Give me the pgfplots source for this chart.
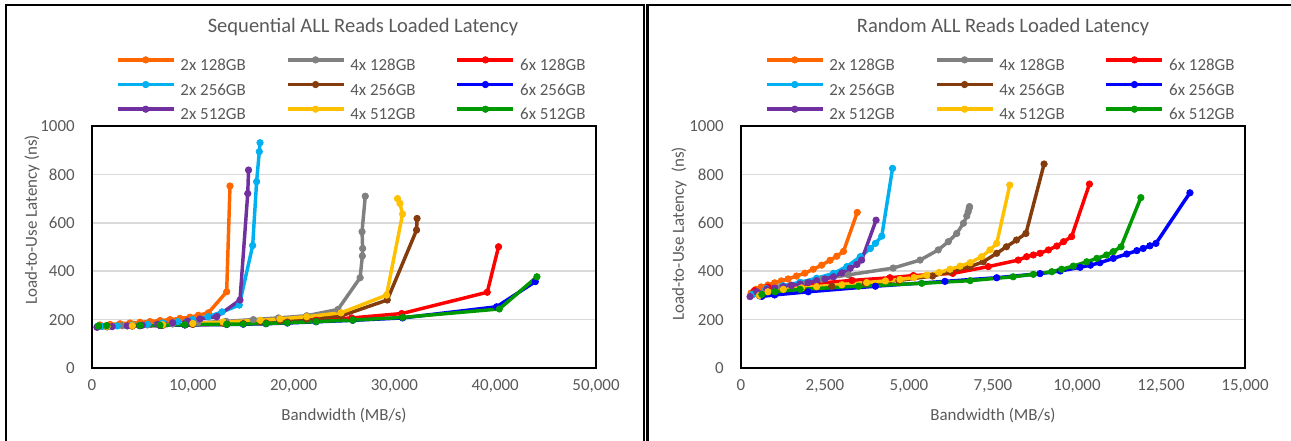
\documentclass[border=0pt]{standalone}
\usepackage{fontspec}
\setmainfont{Carlito}
\usepackage{pgfplots}
\pgfplotsset{compat=1.18}
\definecolor{txt}{HTML}{595959}
\definecolor{cOr}{HTML}{FF6600}
\definecolor{cGy}{HTML}{808080}
\definecolor{cRd}{HTML}{FF0000}
\definecolor{cCy}{HTML}{00B0F0}
\definecolor{cBr}{HTML}{843C0C}
\definecolor{cBl}{HTML}{0000FF}
\definecolor{cPu}{HTML}{7030A0}
\definecolor{cYe}{HTML}{FFC000}
\definecolor{cGn}{HTML}{009900}
\definecolor{grd}{HTML}{D9D9D9}
\newcommand{\lbl}{\fontsize{12.7}{15}\selectfont\color{txt}}
\pgfplotsset{
  myax/.style={
    scale only axis, width=378pt, height=181.5pt,
    ymin=0, ymax=1000, ytick={0,200,400,600,800,1000},
    scaled x ticks=false, scaled y ticks=false,
    axis line style={black, line width=1.6pt},
    major tick length=0pt,
    ymajorgrids, grid style={grd, line width=1.1pt},
    /pgf/number format/assume math mode=true,
    tick label style={font=\lbl, inner sep=0pt},
    xticklabel style={anchor=north, yshift=-8.6pt, /pgf/number format/set thousands separator={,}},
    yticklabel style={anchor=east, xshift=-12.75pt, /pgf/number format/set thousands separator={}},
    label style={font=\lbl},
    xlabel style={at={(axis description cs:0.5,0)}, anchor=center, yshift=-35.25pt},
    legend columns=3,
    legend style={draw=none, fill=none, inner sep=0pt, outer sep=0pt,
      at={(axis description cs:0.0476,1)}, anchor=north west, yshift=52pt,
      font=\lbl, row sep=8.1pt,
      nodes={inner sep=0pt, text height=8pt, text depth=0pt},
      /tikz/every odd column/.append style={column sep=3.75pt},
      /tikz/every even column/.append style={column sep=30pt}},
    legend image code/.code={
      \draw[yshift=4pt, mark repeat=2, mark phase=2] plot coordinates {(0pt,0pt) (21pt,0pt) (42pt,0pt)};},
    every axis plot/.append style={line width=2.6pt, mark=*, mark size=2.4pt, mark options={solid, line width=0.6pt}},
  }
}
\begin{document}
\begin{tikzpicture}[x=0.75pt, y=-0.75pt]
\useasboundingbox (0,0) rectangle (1291,440);
% panel frames
\draw[black, line width=1.2pt] (6,445) -- (6,5) -- (644,5) -- (644,445);
\draw[black, line width=1.6pt] (647.5,445) -- (647.5,5) -- (1295,5);
\node[font=\fontsize{15.4}{18}\selectfont\color{txt}] at (363,27) {Sequential ALL Reads Loaded Latency};
\node[font=\fontsize{15.4}{18}\selectfont\color{txt}] at (1003,27) {Random ALL Reads Loaded Latency};

\begin{axis}[myax, at={(69pt,-276pt)}, anchor=south west,
  xmin=0, xmax=50000, xtick={0,10000,20000,30000,40000,50000},
  xlabel={Bandwidth (MB/s)}, ylabel={Load-to-Use Latency (ns)},
  ylabel style={at={(axis description cs:-0.119,0.612)}, anchor=center}]
\addplot[cOr] coordinates {(794,178)(1786,180)(2778,183)(3770,186)(4760,189)(5750,192)(6750,196)(7740,200)(8730,205)(9720,210)(10550,218)(11540,228)(13360,315)(13690,752)};
\addlegendentry{2x 128GB}
\addplot[cGy] coordinates {(1000,172)(3000,175)(5500,178)(8000,182)(10500,187)(13300,193)(16000,200)(18500,207)(21300,216)(24400,242)(26600,373)(26820,463)(26850,494)(26790,563)(27110,710)};
\addlegendentry{4x 128GB}
\addplot[cRd] coordinates {(630,172)(1460,173)(4760,175)(6750,176)(9220,178)(13360,181)(15010,183)(17260,186)(19380,190)(22230,197)(25760,207)(30720,225)(39210,313)(40330,501)};
\addlegendentry{6x 128GB}
\addplot[cCy] coordinates {(500,170)(1000,172)(2500,174)(4000,177)(5500,181)(7000,186)(8500,192)(10000,200)(11500,212)(12900,232)(14610,260)(15940,506)(16330,770)(16600,894)(16670,931)};
\addlegendentry{2x 256GB}
\addplot[cBr] coordinates {(1500,170)(4000,173)(7000,176)(10000,180)(13000,185)(16700,191)(18650,196)(21300,203)(24700,215)(29290,281)(32200,570)(32250,618)};
\addlegendentry{4x 256GB}
\addplot[cBl] coordinates {(630,173)(1460,174)(4760,175)(6750,176)(9220,178)(13360,180)(15010,181)(17260,183)(19380,186)(22230,191)(25860,197)(30820,207)(40140,253)(43980,357)};
\addlegendentry{6x 256GB}
\addplot[cPu] coordinates {(500,168)(2000,171)(3500,174)(5000,177)(6500,181)(8000,187)(9500,194)(10700,203)(12370,212)(14680,281)(15450,721)(15530,818)};
\addlegendentry{2x 512GB}
\addplot[cYe] coordinates {(1500,172)(4000,175)(7000,179)(10000,184)(13000,190)(16700,197)(18650,203)(21300,212)(24700,228)(29220,301)(30810,636)(30550,680)(30310,700)};
\addlegendentry{4x 512GB}
\addplot[cGn] coordinates {(630,174)(1460,175)(4760,176)(6750,177)(9220,179)(13360,181)(15010,182)(17260,184)(19380,187)(22230,192)(25860,198)(30820,209)(40410,244)(44140,377)};
\addlegendentry{6x 512GB}
\end{axis}

\begin{axis}[myax, at={(555.75pt,-276pt)}, anchor=south west,
  xmin=0, xmax=15000, xtick={0,2500,5000,7500,10000,12500,15000},
  xlabel={Bandwidth (MB/s)}, ylabel={Load-to-Use Latency\ \ (ns)},
  ylabel style={at={(axis description cs:-0.123,0.554)}, anchor=center}]
\addplot[cOr] coordinates {(300,310)(450,325)(600,335)(800,343)(1000,352)(1200,360)(1400,368)(1650,380)(1900,392)(2150,408)(2400,425)(2650,445)(2850,462)(3050,482)(3460,643)};
\addlegendentry{2x 128GB}
\addplot[cGy] coordinates {(350,303)(700,320)(1200,335)(1800,352)(2400,367)(3200,385)(4530,413)(5330,446)(5870,488)(6170,522)(6420,556)(6620,598)(6720,628)(6760,645)(6790,660)(6800,667)};
\addlegendentry{4x 128GB}
\addplot[cRd] coordinates {(400,320)(800,334)(1500,342)(2250,350)(3300,362)(4430,373)(5130,382)(6300,391)(7360,419)(8250,446)(8500,460)(8700,467)(8900,474)(9150,488)(9400,504)(9600,522)(9840,543)(10370,760)};
\addlegendentry{6x 128GB}
\addplot[cCy] coordinates {(350,305)(750,328)(1250,340)(1750,354)(2250,371)(2750,391)(3150,419)(3550,460)(3850,494)(4000,515)(4190,545)(4510,825)};
\addlegendentry{2x 256GB}
\addplot[cBr] coordinates {(550,298)(1000,316)(1800,328)(2700,338)(3700,350)(4700,362)(5700,380)(6220,398)(6820,419)(7210,439)(7610,474)(7900,501)(8200,529)(8480,556)(9020,843)};
\addlegendentry{4x 256GB}
\addplot[cBl] coordinates {(620,296)(1000,302)(2000,315)(4000,338)(6070,358)(7610,373)(8900,390)(9500,401)(10090,416)(10400,425)(10680,435)(11080,453)(11480,471)(11780,485)(11970,494)(12170,505)(12350,515)(13360,724)};
\addlegendentry{6x 256GB}
\addplot[cPu] coordinates {(270,295)(470,315)(770,325)(1000,330)(1260,336)(1500,341)(1760,347)(2000,353)(2250,361)(2500,368)(2750,377)(3000,393)(3250,412)(3450,428)(3590,446)(4020,611)};
\addlegendentry{2x 512GB}
\addplot[cYe] coordinates {(550,300)(800,315)(1260,325)(1800,331)(2250,336)(3000,344)(3740,353)(4300,360)(4730,366)(5150,374)(5530,384)(5900,395)(6220,408)(6520,421)(6820,435)(7160,460)(7410,488)(7610,515)(8000,756)};
\addlegendentry{4x 512GB}
\addplot[cGn] coordinates {(620,304)(1010,315)(1760,325)(3500,338)(5380,350)(6820,361)(8100,377)(8700,387)(9250,398)(9540,408)(9890,421)(10290,439)(10590,453)(10880,467)(11080,481)(11310,501)(11900,704)};
\addlegendentry{6x 512GB}
\end{axis}
\end{tikzpicture}
\end{document}
